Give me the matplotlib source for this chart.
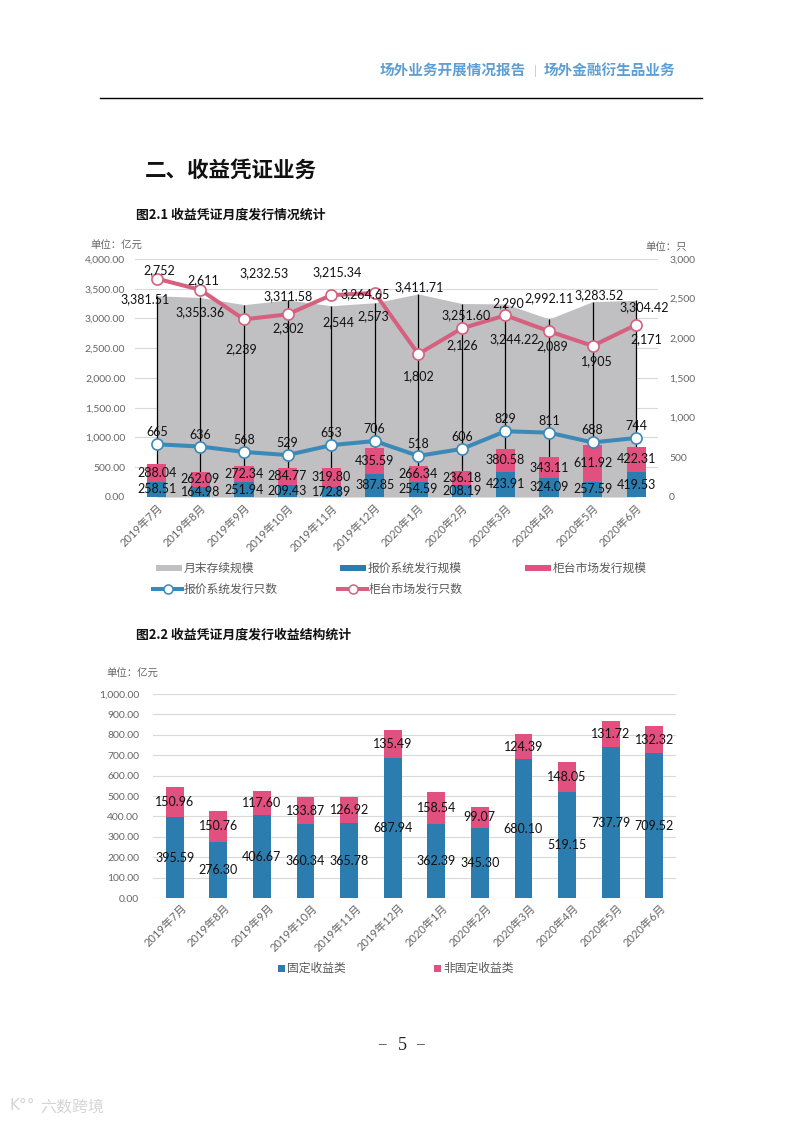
import numpy as np
import matplotlib
matplotlib.use('Agg')
import matplotlib.pyplot as plt
from matplotlib.transforms import ScaledTranslation
from matplotlib.patches import Rectangle
from matplotlib.lines import Line2D
from matplotlib.ticker import FuncFormatter, MultipleLocator

plt.rcParams['font.family'] = ['Lato', 'Noto Sans CJK SC', 'DejaVu Sans']

# ---------------- data ----------------
months = ['2019年7月', '2019年8月', '2019年9月', '2019年10月', '2019年11月', '2019年12月',
          '2020年1月', '2020年2月', '2020年3月', '2020年4月', '2020年5月', '2020年6月']
outstanding = [3381.51, 3353.36, 3232.53, 3311.58, 3215.34, 3264.65,
               3411.71, 3251.60, 3244.22, 2992.11, 3283.52, 3304.42]
quote_scale = [258.51, 164.98, 251.94, 209.43, 172.89, 387.85,
               254.59, 208.19, 423.91, 324.09, 257.59, 419.53]
counter_scale = [288.04, 262.09, 272.34, 284.77, 319.80, 435.59,
                 266.34, 236.18, 380.58, 343.11, 611.92, 422.31]
quote_count = [665, 636, 568, 529, 653, 706, 518, 606, 829, 811, 688, 744]
counter_count = [2752, 2611, 2239, 2302, 2544, 2573, 1802, 2126, 2290, 2089, 1905, 2171]
fixed_income = [395.59, 276.30, 406.67, 360.34, 365.78, 687.94,
                362.39, 345.30, 680.10, 519.15, 737.79, 709.52]
non_fixed = [150.96, 150.76, 117.60, 133.87, 126.92, 135.49,
             158.54, 99.07, 124.39, 148.05, 131.72, 132.32]

legend1 = ['月末存续规模', '报价系统发行规模', '柜台市场发行规模', '报价系统发行只数', '柜台市场发行只数']
legend2 = ['固定收益类', '非固定收益类']

# ---------------- styles ----------------
GRAY_AREA = '#c0bfc1'
BLUE = '#2b7db0'
PINK = '#e1507e'
BLUE_LINE = '#3b89b7'
PINK_LINE = '#d6607f'
GRID = '#d9d9d9'
TICK = '#666666'
LEG = '#595959'
CJK = ['Noto Sans CJK SC', 'DejaVu Sans']
LBL = 9

# label offsets in pixels (dx, dy down-positive)
area_off = [(-12, 3), (0, 15), (20, -32), (1, -4), (6, -34), (-10, -9),
            (1, -7), (4, 12), (9, 35), (0, -21), (6, -6), (8, 7)]
pink_off = [(2, -9), (3, -10), (-3, 30), (1, 14), (7, 27), (-1, 23),
            (1, 22), (0, 17), (3, -12), (3, 15), (4, 15), (10, 14)]
blue_off = [(0, -12)] * 12

W, H = 793, 1122
fig = plt.figure(figsize=(W / 100, H / 100), dpi=100)
fig.patch.set_facecolor('white')


def px_axes(left, top, right, bottom):
    return fig.add_axes([left / W, 1 - bottom / H, (right - left) / W, (bottom - top) / H])


def style_xlabels(ax, dx, dy):
    ax.tick_params(axis='x', length=0, pad=0)
    for lab in ax.get_xticklabels():
        lab.set_rotation(45)
        lab.set_ha('right')
        lab.set_va('center')
        lab.set_rotation_mode('anchor')
        lab.set_fontsize(8)
        lab.set_color(TICK)
        lab.set_transform(lab.get_transform() +
                          ScaledTranslation(dx / 100, -dy / 100, fig.dpi_scale_trans))


x = np.arange(len(months))

# ---------------- chart 1 ----------------
ax1 = px_axes(135, 259, 658, 497)
ax1.set_xlim(-0.5, 11.5)
ax1.set_ylim(0, 4000)
ax1.fill_between(x, outstanding, color=GRAY_AREA, lw=0, zorder=1)
ax1.vlines(x, 0, outstanding, color='black', lw=0.9, zorder=2)
bq = ax1.bar(x, quote_scale, width=0.44, color=BLUE, zorder=3)
bc = ax1.bar(x, counter_scale, bottom=quote_scale, width=0.44, color=PINK, zorder=3)
ax1.bar_label(bq, labels=[f'{v:,.2f}' for v in quote_scale], label_type='center',
              fontsize=LBL, color='#111111')
ax1.bar_label(bc, labels=[f'{v:,.2f}' for v in counter_scale], label_type='center',
              fontsize=LBL, color='#111111')
ax1.yaxis.set_major_locator(MultipleLocator(500))
ax1.yaxis.set_major_formatter(FuncFormatter(lambda v, p: f'{v:,.2f}'))
ax1.grid(axis='y', color=GRID, lw=0.8, zorder=0)
ax1.set_axisbelow(True)
ax1.tick_params(axis='y', length=0, pad=7, labelsize=7.5, labelcolor=TICK)
for s in ax1.spines.values():
    s.set_visible(False)
ax1.set_xticks(x, months)
style_xlabels(ax1, 4, 9)

ax2 = ax1.twinx()
ax2.set_ylim(0, 3000)
ax2.yaxis.set_major_locator(MultipleLocator(500))
ax2.yaxis.set_major_formatter(FuncFormatter(lambda v, p: f'{int(v):,}'))
ax2.tick_params(axis='y', length=0, pad=8, labelsize=7.5, labelcolor=TICK)
for s in ax2.spines.values():
    s.set_visible(False)
ax2.plot(x, quote_count, color=BLUE_LINE, lw=2.9, marker='o', ms=8,
         mfc='white', mec=BLUE_LINE, mew=1.2, zorder=5)
ax2.plot(x, counter_count, color=PINK_LINE, lw=2.9, marker='o', ms=8,
         mfc='white', mec=PINK_LINE, mew=1.2, zorder=5)

for i, v in enumerate(outstanding):
    dx, dy = area_off[i]
    ax2.annotate(f'{v:,.2f}', xy=(i, v), xycoords=ax1.transData, xytext=(dx, -dy),
                 textcoords='offset pixels', ha='center', va='center',
                 fontsize=LBL, color='#111111', zorder=7)
for i, v in enumerate(counter_count):
    dx, dy = pink_off[i]
    ax2.annotate(f'{v:,}', xy=(i, v), xytext=(dx, -dy), textcoords='offset pixels',
                 ha='center', va='center', fontsize=LBL, color='#111111', zorder=7)
for i, v in enumerate(quote_count):
    dx, dy = blue_off[i]
    ax2.annotate(f'{v:,}', xy=(i, v), xytext=(dx, -dy), textcoords='offset pixels',
                 ha='center', va='center', fontsize=LBL, color='#111111', zorder=7)

# ---------------- chart 2 ----------------
ax3 = px_axes(153, 694, 676, 898)
ax3.set_xlim(-0.5, 11.5)
ax3.set_ylim(0, 1000)
bf = ax3.bar(x, fixed_income, width=0.41, color=BLUE, zorder=3)
bn = ax3.bar(x, non_fixed, bottom=fixed_income, width=0.41, color=PINK, zorder=3)
ax3.bar_label(bf, labels=[f'{v:,.2f}' for v in fixed_income], label_type='center',
              fontsize=LBL, color='#111111')
ax3.bar_label(bn, labels=[f'{v:,.2f}' for v in non_fixed], label_type='center',
              fontsize=LBL, color='#111111')
ax3.yaxis.set_major_locator(MultipleLocator(100))
ax3.yaxis.set_major_formatter(FuncFormatter(lambda v, p: f'{v:,.2f}'))
ax3.grid(axis='y', color=GRID, lw=0.8, zorder=0)
ax3.set_axisbelow(True)
ax3.tick_params(axis='y', length=0, pad=10, labelsize=7.5, labelcolor=TICK)
for s in ax3.spines.values():
    s.set_visible(False)
ax3.set_xticks(x, months)
style_xlabels(ax3, 10, 8)

# ---------------- page overlay ----------------
ov = fig.add_axes([0, 0, 1, 1], zorder=10)
ov.set_xlim(0, W)
ov.set_ylim(H, 0)
ov.axis('off')
ov.patch.set_visible(False)

HEAD = '#5e9fd3'
ov.text(526, 70, '场外业务开展情况报告', ha='right', va='center', fontsize=10.5,
        fontweight='bold', color=HEAD, family=CJK)
ov.text(535, 71, '|', ha='center', va='center', fontsize=7, color='#9bbbd8', family=CJK)
ov.text(544, 70, '场外金融衍生品业务', ha='left', va='center', fontsize=10.5,
        fontweight='bold', color=HEAD, family=CJK)
ov.plot([100, 702], [98, 98], color='black', lw=1.0)

ov.text(145, 170, '二、收益凭证业务', ha='left', va='center', fontsize=15.5,
        fontweight='bold', color='#111111', family=CJK)
ov.text(136, 215, '图2.1 收益凭证月度发行情况统计', ha='left', va='center', fontsize=9.3,
        fontweight='bold', color='#111111', family=CJK)
ov.text(90, 246, '单位：亿元', ha='left', va='center', fontsize=7.5, color=TICK, family=CJK)
ov.text(687, 247, '单位：只', ha='right', va='center', fontsize=7.5, color=TICK, family=CJK)

ov.text(136, 635, '图2.2 收益凭证月度发行收益结构统计', ha='left', va='center', fontsize=9.3,
        fontweight='bold', color='#111111', family=CJK)
ov.text(106, 674, '单位：亿元', ha='left', va='center', fontsize=7.5, color=TICK, family=CJK)

# legend chart 1
r1, r2 = 568, 589
for (x0, col, lab) in [(156, GRAY_AREA, legend1[0]), (340, BLUE, legend1[1]), (525, PINK, legend1[2])]:
    ov.add_patch(Rectangle((x0, r1 - 3), 26, 6, color=col, lw=0))
    ov.text(x0 + 28, r1, lab, ha='left', va='center', fontsize=8.5, color=LEG, family=CJK)
for (x0, col, lab) in [(153, BLUE_LINE, legend1[3]), (338, PINK_LINE, legend1[4])]:
    ov.add_line(Line2D([x0, x0 + 29], [r2, r2], color=col, lw=2.9))
    ov.add_line(Line2D([x0 + 14.5], [r2], marker='o', ms=6.5, mfc='white', mec=col, mew=1.1))
    ov.text(x0 + 31, r2, lab, ha='left', va='center', fontsize=8.5, color=LEG, family=CJK)

# legend chart 2
r3 = 968
for (x0, col, lab) in [(278, BLUE, legend2[0]), (434, PINK, legend2[1])]:
    ov.add_patch(Rectangle((x0, r3 - 3.5), 7, 7, color=col, lw=0))
    ov.text(x0 + 9, r3, lab, ha='left', va='center', fontsize=8.5, color=LEG, family=CJK)

# page number and watermark
ov.text(382, 1045, '–', ha='center', va='center', fontsize=11, color='#333333', family='Liberation Serif')
ov.text(402, 1045, '5', ha='center', va='center', fontsize=13, color='#222222', family='Liberation Serif')
ov.text(420, 1045, '–', ha='center', va='center', fontsize=11, color='#333333', family='Liberation Serif')
ov.text(40, 1107, '六数跨境', ha='left', va='center', fontsize=11.5, color='#d5d5d5', family=CJK)
ov.text(22, 1106, 'K°°', ha='center', va='center', fontsize=11, color='#d5d5d5', family='DejaVu Sans')

fig.savefig('out.png', dpi=100)
